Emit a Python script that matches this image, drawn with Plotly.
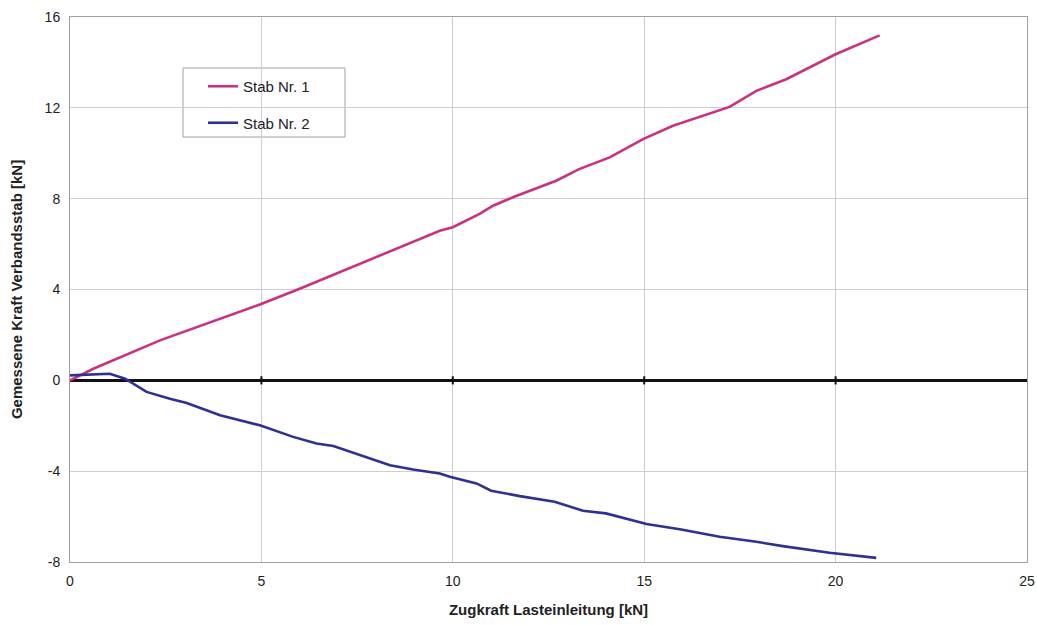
import plotly.graph_objects as go

stab1_x = [0, 0.61, 2.35, 4.96, 6.0, 7.57, 9.66, 10.0, 10.7, 11.05, 11.57, 12.7, 13.3, 14.1,
           14.97, 15.75, 17.23, 17.93, 18.71, 20.0, 21.15]
stab1_y = [0, 0.51, 1.76, 3.34, 4.03, 5.13, 6.59, 6.74, 7.33, 7.69, 8.06, 8.79, 9.30, 9.82,
           10.62, 11.21, 12.04, 12.75, 13.26, 14.36, 15.19]

stab2_x = [0, 1.04, 1.44, 2.0, 2.61, 3.05, 3.92, 4.44, 4.96, 5.83, 6.44, 6.88, 7.57, 8.36,
           8.96, 9.66, 9.92, 10.62, 11.0, 11.75, 12.66, 13.4, 14.0, 15.06, 15.93, 16.97,
           17.93, 18.62, 19.84, 20.45, 21.06]
stab2_y = [0.22, 0.29, 0.07, -0.51, -0.81, -1.0, -1.54, -1.76, -1.98, -2.49, -2.78, -2.89,
           -3.30, -3.74, -3.93, -4.10, -4.25, -4.54, -4.86, -5.10, -5.35, -5.74, -5.86, -6.33,
           -6.56, -6.89, -7.11, -7.30, -7.59, -7.69, -7.82]

x_ticks = [0, 5, 10, 15, 20, 25]
y_ticks = [-8, -4, 0, 4, 8, 12, 16]
y_labels = ["-8", "-4", "0", "4", "8", "12", "16"]

fig = go.Figure()
fig.add_trace(go.Scatter(x=stab1_x, y=stab1_y, mode="lines", name="Stab Nr. 1", legendgroup="a",
                         line=dict(color="#C8327F", width=2.6)))
fig.add_trace(go.Scatter(x=stab2_x, y=stab2_y, mode="lines", name="Stab Nr. 2", legendgroup="b",
                         line=dict(color="#2E3192", width=2.6)))

# small tick marks on the zero line
for xv in x_ticks[1:-1]:
    fig.add_shape(type="line", xref="x", yref="y", x0=xv, x1=xv, y0=-0.18, y1=0.18,
                  line=dict(color="#111", width=2))

# legend frame
fig.add_shape(type="rect", xref="paper", yref="paper",
              x0=(183 - 70) / 957, x1=(345 - 70) / 957,
              y0=(562 - 137) / 545, y1=(562 - 68) / 545,
              line=dict(color="#A0A0A0", width=1), fillcolor="white", layer="below")

font = "Liberation Sans, Arial, sans-serif"
fig.update_layout(
    width=1037, height=625,
    margin=dict(l=70, r=10, t=17, b=63, autoexpand=False),
    paper_bgcolor="white", plot_bgcolor="white",
    font=dict(family=font, size=14, color="#222"),
    showlegend=True,
    legend=dict(x=(203 - 70) / 957, y=(562 - 70) / 545, xanchor="left", yanchor="top",
                borderwidth=0, bgcolor="rgba(0,0,0,0)",
                font=dict(size=15, color="#222"), tracegroupgap=14, traceorder="grouped"),
    xaxis=dict(range=[0, 25], tickvals=x_ticks, showgrid=True, gridcolor="#CDCDD5",
               gridwidth=1, zeroline=False, showline=True, linecolor="#A0A0A0", mirror=True,
               ticks="", tickfont=dict(size=14), automargin=False, ticklabelstandoff=6,
               title=dict(text="<b>Zugkraft Lasteinleitung [kN]</b>", font=dict(size=15), standoff=16)),
    yaxis=dict(range=[-8, 16], tickvals=y_ticks, ticktext=y_labels, showgrid=True,
               gridcolor="#CDCDD5", gridwidth=1, zeroline=True, zerolinecolor="#111",
               zerolinewidth=2.5, showline=True, linecolor="#A0A0A0", mirror=True, ticks="",
               tickfont=dict(size=14), automargin=False, ticklabelstandoff=6,
               title=dict(text="<b>Gemessene Kraft Verbandsstab [kN]</b>", font=dict(size=15), standoff=18)),
)

fig.write_html("out.html", config={"displayModeBar": False},
               post_script="document.body.style.margin='0';")
